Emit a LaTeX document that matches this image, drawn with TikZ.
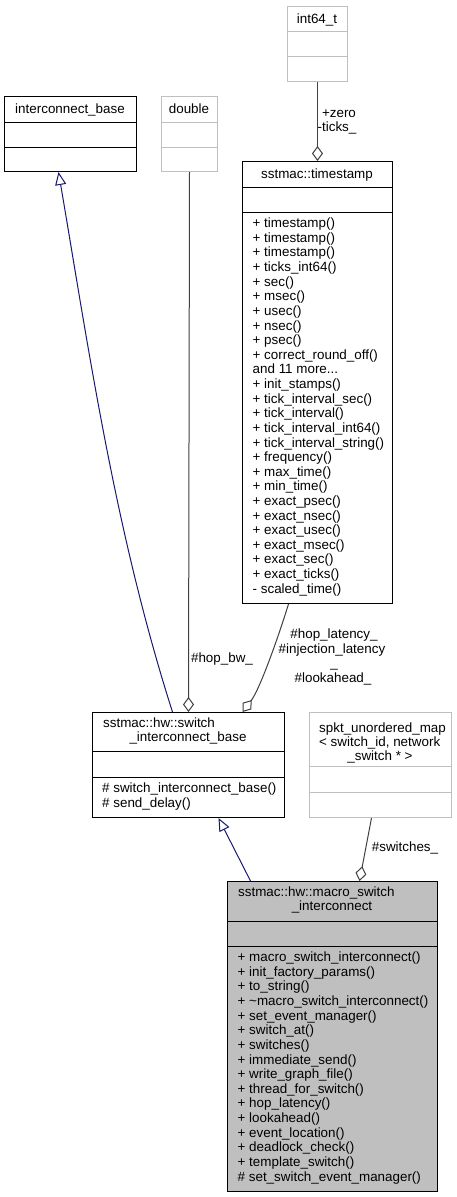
\documentclass[tikz,border=0pt]{standalone}
\usepackage{fontspec}
\setmainfont{Liberation Sans}
\usetikzlibrary{arrows.meta}
\definecolor{grey75}{HTML}{BFBFBF}
\definecolor{grey25}{HTML}{404040}
\definecolor{navy}{HTML}{191970}
\newcommand\doxfont{\fontsize{13.4}{14.6}\selectfont}
\tikzset{cls/.style={draw=black,line width=1pt,inner sep=0pt,anchor=north west},
  ext/.style={cls,draw=grey75},
  ttl/.style={font=\doxfont,inner sep=0pt,anchor=base},
  mbr/.style={ttl,anchor=base west},
  inh/.style={navy,line width=1pt,-{Triangle[open,length=13pt,width=11pt]}},
  usg/.style={grey25,line width=1pt,-{Diamond[open,length=15pt,width=11pt]}}}

\begin{document}
\begin{tikzpicture}[x=1pt,y=-1pt]
    \fill[white] (0,0) rectangle (457,1197);
    \useasboundingbox (0,0) rectangle (457,1197);
    % classes
    \node[ext,minimum width=60pt,minimum height=75pt] (int) at (287,6) {};
    \draw[grey75,line width=1pt] (287,31.5) -- (347,31.5) (287,56.5) -- (347,56.5);
    \node[ttl] (int-t) at (317,23) {int64\_t};
    \node[cls,minimum width=150pt,minimum height=442pt] (ts) at (242,161) {};
    \draw[line width=1pt] (242,187) -- (392,187) (242,212) -- (392,212);
    \node[ttl] (ts-t) at (317,178) {sstmac::timestamp};
    \foreach \m [count=\i] in {+ timestamp(),+ timestamp(),+ timestamp(),+ ticks\_int64(),+ sec(),+ msec(),+ usec(),+ nsec(),+ psec(),+ correct\_round\_off(),and 11 more.\kern0pt.\kern0pt.,+ init\_stamps(),+ tick\_interval\_sec(),+ tick\_interval(),+ tick\_interval\_int64(),+ tick\_interval\_string(),+ frequency(),+ max\_time(),+ min\_time(),+ exact\_psec(),+ exact\_nsec(),+ exact\_usec(),+ exact\_msec(),+ exact\_sec(),+ exact\_ticks(),- scaled\_time()}
      \node[mbr] (ts-\i) at (252.5,{227.7+(\i-1)*14.62}) {\m};
    \node[cls,minimum width=132pt,minimum height=75pt] (ib) at (4,96) {};
    \draw[line width=1pt] (4,122) -- (136,122) (4,147) -- (136,147);
    \node[ttl] (ib-t) at (70,113) {interconnect\_base};
    \node[ext,minimum width=56pt,minimum height=75pt] (dbl) at (161,96) {};
    \draw[grey75,line width=1pt] (161,122) -- (217,122) (161,147) -- (217,147);
    \node[ttl] (dbl-t) at (189,113) {double};
    \node[cls,minimum width=192pt,minimum height=105pt] (swb) at (92,712) {};
    \draw[line width=1pt] (92,751) -- (284,751) (92,777) -- (284,777);
    \node[mbr] (swb-t1) at (103,727.5) {sstmac::hw::switch};
    \node[ttl] (swb-t2) at (188,741.5) {\_interconnect\_base};
    \node[mbr] (swb-1) at (102,792.7) {\# switch\_interconnect\_base()};
    \node[mbr] (swb-2) at (102,807.3) {\# send\_delay()};
    \node[ext,minimum width=142pt,minimum height=105pt] (spk) at (309,712) {};
    \draw[grey75,line width=1pt] (309,766) -- (451,766) (309,792) -- (451,792);
    \node[mbr] (spk-t1) at (319,732) {spkt\_unordered\_map};
    \node[mbr] (spk-t2) at (319,746) {< switch\_id, network};
    \node[ttl] (spk-t3) at (380,760) {\_switch * >};
    \node[cls,fill=grey75,minimum width=210pt,minimum height=310pt] (mac) at (227,881) {};
    \draw[line width=1pt] (227,921) -- (437,921) (227,946) -- (437,946);
    \node[mbr] (mac-t1) at (238,896.7) {sstmac::hw::macro\_switch};
    \node[ttl] (mac-t2) at (332,910.7) {\_interconnect};
    \foreach \m [count=\i] in {+ macro\_switch\_interconnect(),+ init\_factory\_params(),+ to\_string(),+ \textasciitilde macro\_switch\_interconnect(),+ set\_event\_manager(),+ switch\_at(),+ switches(),+ immediate\_send(),+ write\_graph\_file(),+ thread\_for\_switch(),+ hop\_latency(),+ lookahead(),+ event\_location(),+ deadlock\_check(),+ template\_switch(),\# set\_switch\_event\_manager()}
      \node[mbr] (mac-\i) at (237.5,{961.7+(\i-1)*14.62}) {\m};
    % relations
    \draw[usg] (int.south) -- (ts.north);
    \node[ttl] (l-zero) at (339,117) {+zero};
    \node[ttl] (l-ticks) at (337,131.5) {-ticks\_};
    \draw[inh] ([xshift=-16pt]swb.north) .. controls (115,532) and (89,351) .. ([xshift=-12pt]ib.south);
    \draw[usg] (dbl.south) -- (swb.north);
    \node[ttl] (l-bw) at (222,662) {\#hop\_bw\_};
    \draw[usg] ([xshift=-29pt]ts.south) .. controls (279,635) and (260,689) .. ([xshift=54pt]swb.north);
    \node[ttl] (l-lat) at (334,638.5) {\#hop\_latency\_};
    \node[ttl] (l-inj) at (332,653.2) {\#injection\_latency};
    \node[ttl] (l-us) at (334,667.9) {\_};
    \node[ttl] (l-look) at (333,682.6) {\#lookahead\_};
    \draw[inh] ([xshift=-82pt]mac.north) -- ([xshift=30pt]swb.south);
    \draw[usg] ([xshift=-9pt]spk.south) -- ([xshift=27pt]mac.north);
    \node[ttl] (l-sw) at (405,851.7) {\#switches\_};
\end{tikzpicture}
\end{document}
